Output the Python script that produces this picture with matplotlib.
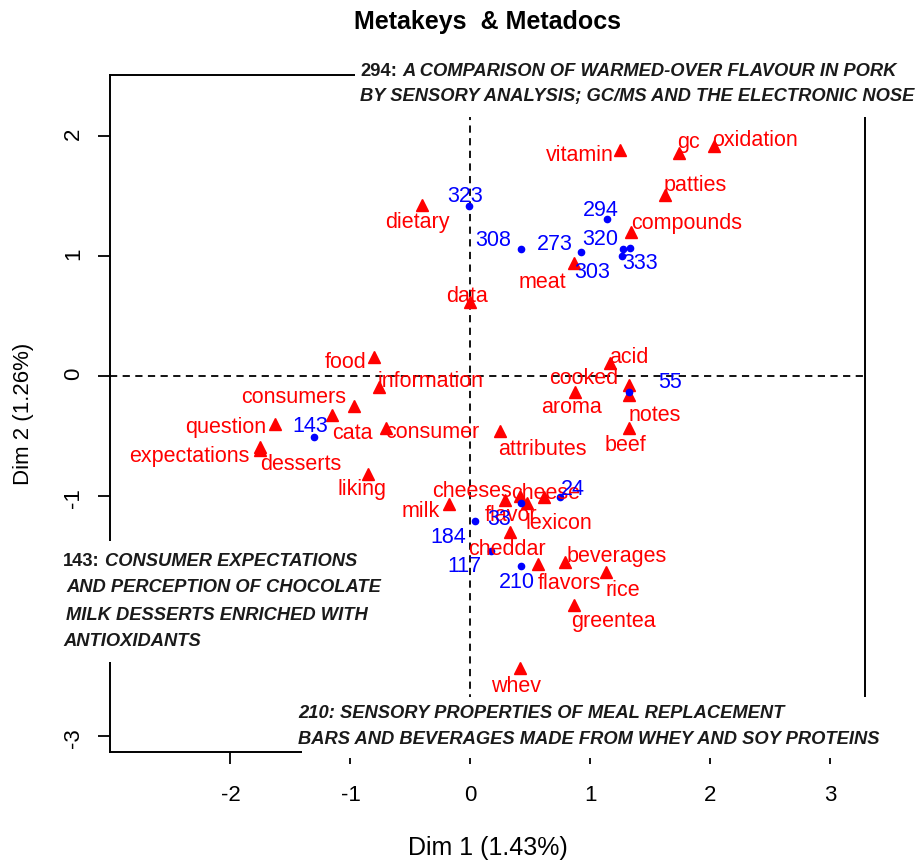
import matplotlib
matplotlib.use("Agg")
import matplotlib.pyplot as plt
from matplotlib.patches import Rectangle

plt.rcParams['font.family'] = ['Liberation Sans', 'DejaVu Sans']

# metakeys (red triangles)
key_names = ['vitamin', 'gc', 'oxidation', 'patties', 'compounds', 'dietary',
             'meat', 'data', 'food', 'acid', 'information', 'cooked', 'aroma',
             'notes', 'beef', 'consumers', 'cata', 'question', 'consumer',
             'attributes', 'expectations', 'desserts', 'liking', 'milk',
             'cheeses', 'flavor', 'lexicon', 'cheese', 'cheddar', 'flavors',
             'beverages', 'rice', 'greentea', 'whev']
key_x = [1.25, 1.74, 2.03, 1.62, 1.34, -0.40, 0.86, -0.005, -0.80, 1.16,
         -0.76, 1.32, 0.87, 1.32, 1.32, -0.97, -1.15, -1.63, -0.70, 0.25,
         -1.75, -1.755, -0.85, -0.18, 0.29, 0.41, 0.47, 0.61, 0.33, 0.56,
         0.79, 1.13, 0.86, 0.41]
key_y = [1.88, 1.86, 1.92, 1.51, 1.20, 1.425, 0.94, 0.62, 0.16, 0.105,
         -0.09, -0.075, -0.13, -0.16, -0.43, -0.25, -0.325, -0.40, -0.435,
         -0.46, -0.595, -0.62, -0.82, -1.07, -1.03, -1.00, -1.06, -1.01,
         -1.30, -1.57, -1.55, -1.63, -1.91, -2.43]

# metadocs (blue dots)
doc_names = ['323', '308', '294', '273', '320', '333', '303', '55', '143',
             '24', '33', '184', '117', '210']
doc_x = [-0.015, 0.42, 1.14, 0.925, 1.27, 1.33, 1.26, 1.325, -1.305, 0.75,
         0.42, 0.035, 0.17, 0.425]
doc_y = [1.42, 1.055, 1.305, 1.03, 1.06, 1.07, 1.00, -0.13, -0.505, -1.01,
         -1.06, -1.21, -1.46, -1.58]

# label offsets in pixels (dx, dy up)
key_off = [(-41, -5), (9, 10), (41, 5), (30, 9), (55, 8), (-5, -18),
           (-31, -19), (-3, 5), (-29, -6), (19, 6), (51, 5), (-45, 6),
           (-3, -16), (26, -20), (-3, -18), (-60, 8), (20, -18), (-49, -3),
           (46, -4), (42, -18), (-71, -9), (41, -14), (-6, -15), (-28, -7),
           (-33, 8), (-9, -19), (32, -20), (2, 4), (-3, -17), (32, -19),
           (51, 6), (17, -19), (40, -16), (-4, -19)]
doc_off = [(-4, 9), (-28, 9), (-6, 9), (-27, 8), (-23, 9), (10, -16),
           (-29, -17), (41, 9), (-4, 10), (12, 8), (-22, -16), (-26, -16),
           (-26, -15), (-5, -17)]

W, H = 923, 860
fig = plt.figure(figsize=(W / 100, H / 100), dpi=100)
ax = fig.add_axes([110 / W, (H - 752) / H, 755 / W, 677 / H])

ax.axhline(0, color='black', lw=1.3, ls=(0, (4, 3)), zorder=1)
ax.axvline(0, color='black', lw=1.3, ls=(0, (4, 3)), zorder=1)

ax.plot(key_x, key_y, '^', color='red', ms=9, mec='red', ls='none', zorder=3)
ax.plot(doc_x, doc_y, 'o', color='blue', ms=4.5, mec='blue', ls='none', zorder=3)

for name, x, y, (dx, dy) in zip(key_names, key_x, key_y, key_off):
    ax.annotate(name, (x, y), xytext=(dx, dy), textcoords='offset pixels',
                ha='center', va='center', color='red', fontsize=15.5, zorder=4)
for name, x, y, (dx, dy) in zip(doc_names, doc_x, doc_y, doc_off):
    ax.annotate(name, (x, y), xytext=(dx, dy), textcoords='offset pixels',
                ha='center', va='center', color='blue', fontsize=15.5, zorder=4)

ax.set_xlim(-3.004, 3.288)
ax.set_ylim(-3.133, 2.508)
ax.set_xticks([-2, -1, 0, 1, 2, 3])
ax.set_yticks([-3, -2, -1, 0, 1, 2])
# the -2 label sits under the 143 box in the original
ax.set_yticklabels(['-3', '', '-1', '0', '1', '2'])
ax.set_xticklabels(['-2', '-1', '0', '1', '2', '3'])
ax.tick_params(direction='out', length=8.6, width=1.3, labelsize=16)
ax.tick_params(axis='x', pad=15)
ax.tick_params(axis='y', labelrotation=90, pad=10)
for s in ax.spines.values():
    s.set_linewidth(1.4)

ax.set_xlabel('Dim 1 (1.43%)', fontsize=18, labelpad=22)
ax.set_ylabel('Dim 2 (1.26%)', fontsize=16, labelpad=21)
ax.set_title('Metakeys  & Metadocs', fontsize=18, fontweight='bold', pad=33)

# overlay for the white annotation boxes, in pixel coords
ov = fig.add_axes([0, 0, 1, 1], zorder=5)
ov.set_xlim(0, W)
ov.set_ylim(H, 0)
ov.axis('off')
ov.patch.set_visible(False)

box_font = dict(fontsize=13.2, fontweight='bold', color='#1a1a1a', va='center')

def box(x0, y0, x1, y1):
    ov.add_patch(Rectangle((x0, y0), x1 - x0, y1 - y0, facecolor='white',
                           edgecolor='none', zorder=1))

def lead(x, y, num, rest):
    t = ov.text(x, y, num, style='normal', zorder=3, **box_font)
    ov.annotate(rest, xy=(1, 0.5), xycoords=t, xytext=(5, 0),
                textcoords='offset pixels', style='italic', zorder=3,
                annotation_clip=False, **box_font)

box(355, 55, W, 117)
lead(360, 71, '294:', 'A COMPARISON OF WARMED-OVER FLAVOUR IN PORK')
ov.text(360, 97, 'BY SENSORY ANALYSIS; GC/MS AND THE ELECTRONIC NOSE',
        style='italic', zorder=3, **box_font)

box(0, 541, 395, 662)
lead(63, 562, '143:', 'CONSUMER EXPECTATIONS')
ov.text(66, 588, 'AND PERCEPTION OF CHOCOLATE', style='italic', zorder=3, **box_font)
ov.text(66, 615, 'MILK DESSERTS ENRICHED WITH', style='italic', zorder=3, **box_font)
ov.text(63, 642, 'ANTIOXIDANTS', style='italic', zorder=3, **box_font)

box(302, 697, W, 758)
ov.text(298, 713, '210: SENSORY PROPERTIES OF MEAL REPLACEMENT',
        style='italic', zorder=3, **box_font)
ov.text(298, 739, 'BARS AND BEVERAGES MADE FROM WHEY AND SOY PROTEINS',
        style='italic', zorder=3, **box_font)

fig.savefig('out.png', dpi=100)
